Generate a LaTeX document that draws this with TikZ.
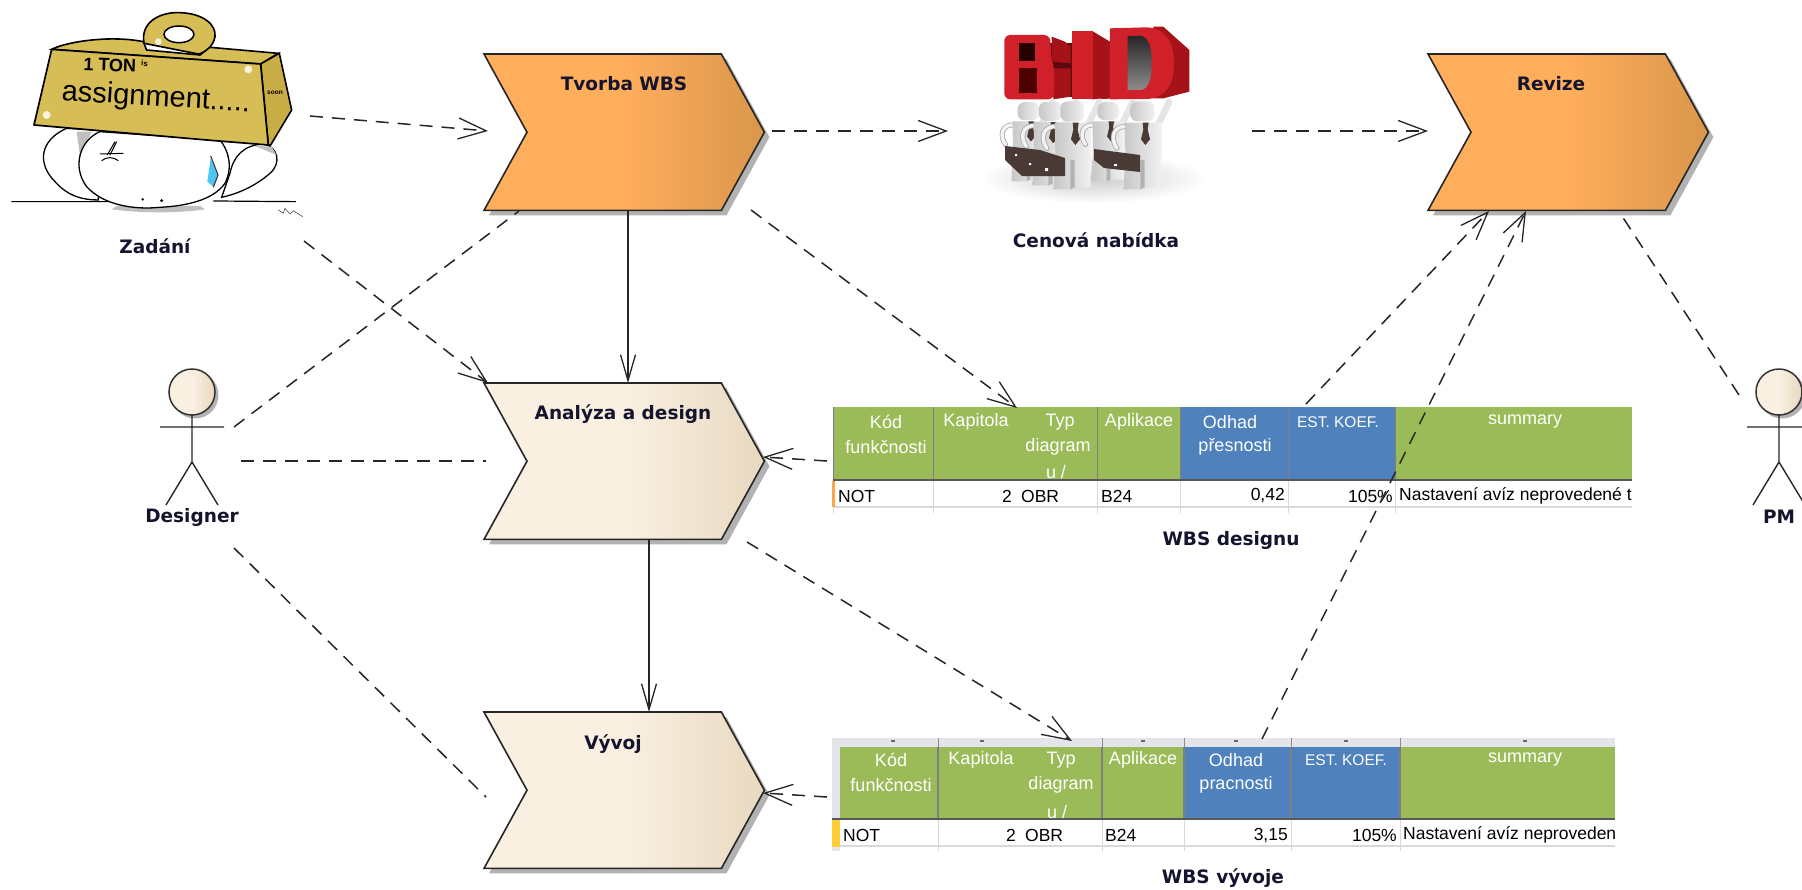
\documentclass[tikz,border=0pt]{standalone}
\usepackage{fontspec}
\setmainfont{Liberation Sans}
\newfontfamily\lblfont{DejaVu Sans}
\usetikzlibrary{arrows.meta,calc}
\definecolor{lblc}{HTML}{14142E}
\definecolor{gold}{HTML}{D7BD55}
\definecolor{goldd}{HTML}{C9AE45}
\definecolor{bidred}{HTML}{D0202A}
\definecolor{bidmid}{HTML}{A51218}
\definecolor{biddark}{HTML}{5E0A0D}
\definecolor{hgreen}{HTML}{9BBB59}
\definecolor{hblue}{HTML}{4F81BD}
\definecolor{hgray}{HTML}{7F7F7F}
\definecolor{gridc}{HTML}{D9D9D9}
\definecolor{bandc}{HTML}{E3E5EA}
\definecolor{orgA}{HTML}{FFAE5C}
\definecolor{orgB}{HTML}{D9964B}
\definecolor{begA}{HTML}{FAF0E2}
\definecolor{begB}{HTML}{E8D8C0}
\definecolor{casec}{HTML}{4A3A35}
\pgfdeclarehorizontalshading{orangegrad}{100bp}{color(0bp)=(orgA);
  color(25bp)=(orgA); color(50bp)=(orgA); color(75bp)=(orgB); color(100bp)=(orgB)}
\pgfdeclarehorizontalshading{beigegrad}{100bp}{color(0bp)=(begA);
  color(25bp)=(begA); color(50bp)=(begA); color(75bp)=(begB); color(100bp)=(begB)}
\tikzset{
  lbl/.style={font=\lblfont\bfseries\fontsize{18.5}{21}\selectfont,text=lblc,inner sep=0pt},
  chevtxt/.style={font=\lblfont\bfseries\fontsize{18.5}{21}\selectfont,text=lblc,inner sep=0pt},
  chevbox/.style={draw=none,fill=none,inner sep=0pt,minimum width=280pt,minimum height=156pt,anchor=north west},
  link/.style={line width=1.5pt,draw=black!85},
  dashlink/.style={link,dash pattern=on 13pt off 9pt},
  openhead/.style={-{Straight Barb[length=28pt,width=21pt,line width=1.3pt]}},
  solidhead/.style={-{Straight Barb[length=26pt,width=15pt,line width=1.3pt]}},
  hdr/.style={font=\fontsize{18}{20}\selectfont,text=white,inner sep=0pt},
  hdrs/.style={font=\fontsize{15.5}{18}\selectfont,text=white,inner sep=0pt},
  cell/.style={font=\fontsize{17.5}{20}\selectfont,text=black,inner sep=0pt},
  actorline/.style={line width=1.4pt,draw=black!85},
}
% chevron #1 name, #2 x, #3 y (top-left), #4 shading
\newcommand{\chevronnode}[4]{%
  \node[chevbox] (#1) at (#2,#3) {};
  \fill[black!30] ([shift={(5,5)}]#1.north west) -- ([shift={(-38,5)}]#1.north east) -- ([shift={(5,5)}]#1.east)
     -- ([shift={(-38,5)}]#1.south east) -- ([shift={(5,5)}]#1.south west) -- ([shift={(48,5)}]#1.west) -- cycle;
  \path[shading=#4,shading angle=0] (#1.north west) -- ([xshift=-43]#1.north east) -- (#1.east) -- ([xshift=-43]#1.south east)
     -- (#1.south west) -- ([xshift=43]#1.west) -- cycle;
  \draw[line width=1.6pt,black!85,line join=miter] (#1.north west) -- ([xshift=-43]#1.north east) -- (#1.east) -- ([xshift=-43]#1.south east)
     -- (#1.south west) -- ([xshift=43]#1.west) -- cycle;
}
% figure under the letters, in zoom-pixel units
\newcommand{\bidperson}[3]{%
  \begin{scope}[shift={(#1,#2)},x=0.3333pt,y=-0.3333pt,scale=#3]
    \draw[line width=6.5pt,black!10,line cap=round] (45,50) -- (82,-25);
    \draw[line width=5pt,black!35,line cap=round] (-45,50) .. controls (-90,45) and (-95,90) .. (-75,115);
    \draw[line width=3.5pt,black!5,line cap=round] (-45,50) .. controls (-90,45) and (-95,90) .. (-75,115);
    \shade[left color=black!22,right color=black!5] (-52,38) -- (58,38) -- (58,130) -- (55,232) -- (8,232) -- (8,150) -- (-5,150) -- (-5,238) -- (-55,238) -- (-50,130) -- cycle;
    \fill[black!30] (-5,150) -- (8,150) -- (8,232) -- (-5,238) -- cycle;
    \shade[left color=black!22,right color=black!5,rounded corners=7pt] (-35,-26) rectangle (38,34);
    \fill[casec] (2,38) -- (20,38) -- (17,58) -- (24,88) -- (10,105) -- (-3,88) -- (4,58) -- cycle;
  \end{scope}
}
\begin{document}
\begin{tikzpicture}[x=1pt,y=-1pt]
\useasboundingbox (0,0) rectangle (1802,889);
\clip (0,0) rectangle (1802,889);
\fill[white] (0,0) rectangle (1802,889);

% ---------- Weight picture (Zadani)
\begin{scope}[shift={(0,0)},x=0.3333pt,y=-0.3333pt]
  \fill[black!25] (335,628) .. controls (420,640) and (540,640) .. (615,628) -- (600,618) -- (350,618) -- cycle;
  \draw[line width=1.3pt,fill=white] (200,385) .. controls (120,420) and (110,490) .. (165,545) .. controls (205,590) and (250,600) .. (295,600) -- (300,390) -- cycle;
  \fill[black!25] (230,395) -- (275,395) -- (240,470) -- cycle;
  \draw[line width=1.3pt,fill=white] (690,520) .. controls (700,470) and (730,435) .. (790,432) .. controls (835,440) and (845,490) .. (810,520) .. controls (770,555) and (720,580) .. (665,592) -- cycle;
  \fill[black!25] (765,438) -- (815,440) -- (830,465) -- cycle;
  \draw[line width=1.3pt,fill=white] (300,395) .. controls (240,420) and (215,500) .. (260,560) .. controls (310,615) and (400,630) .. (480,622) .. controls (560,618) and (640,600) .. (675,550) .. controls (700,500) and (685,450) .. (660,420) -- cycle;
  \draw[line width=1.2pt] (34,605) -- (330,605) (640,603) -- (888,605);
  % tear
  \fill[cyan!70!white] (632,475) -- (652,525) -- (640,560) -- (622,545) -- cycle;
  \draw[line width=1.1pt,black!80] (632,468) -- (654,525) -- (640,562);
  % anger mark
  \draw[line width=1pt] (322,465) -- (345,425) (350,425) -- (330,465) (300,462) -- (370,460) (305,482) .. controls (320,470) and (340,470) .. (355,482);
  \fill (428,598) circle (1.4pt) (485,602) circle (1.6pt);
  % ring
  \draw[line width=1.6pt,fill=gold] (432,130) .. controls (420,60) and (490,35) .. (540,38) .. controls (610,40) and (650,75) .. (645,110) .. controls (640,140) and (615,158) .. (595,162) -- cycle;
  \draw[line width=1.5pt,fill=white] (537,103) ellipse [x radius=45,y radius=25];
  % top face
  \draw[line width=1.6pt,fill=gold] (155,148) .. controls (200,125) and (330,105) .. (430,125) -- (440,150) -- (600,165) -- (630,142) -- (835,160) -- (782,192) -- cycle;
  % right face
  \draw[line width=1.6pt,fill=goldd] (782,192) -- (838,160) -- (875,330) -- (812,435) -- (805,435) -- cycle;
  % front face
  \draw[line width=1.7pt,fill=gold,line join=round] (155,148) -- (782,192) -- (805,435) -- (620,420) -- (102,375) -- cycle;
  \fill[white,opacity=.8] (140,345) circle (12) (745,208) circle (12) (475,125) circle (10);
  \node[font=\fontsize{18}{20}\selectfont\bfseries,inner sep=0pt,rotate=-2,anchor=west] (tontxt) at (250,192) {1 TON \textsuperscript{\fontsize{8}{8}\selectfont is}};
  \node[font=\fontsize{29}{30}\selectfont,inner sep=0pt,rotate=-3.5,anchor=west] (asstxt) at (185,278) {assignment.....};
  \node[font=\fontsize{6.5}{7}\selectfont\bfseries,inner sep=0pt] (soontxt) at (825,277) {soon};
  % signature scribble
  \draw[line width=.6pt,black!70] (835,630) -- (850,640) -- (855,625) -- (870,642) -- (880,632) -- (908,650);
\end{scope}
\node[lbl] (zadani) at (155,246) {Zadání};

% ---------- BID picture
\begin{scope}[shift={(950,0)},x=0.3333pt,y=-0.3333pt]
  \shade[inner color=black!20,outer color=white] (430,535) ellipse [x radius=340,y radius=75];
  % B
  \fill[biddark] (205,128) rectangle (365,290);
  \fill[bidmid] (305,110) -- (345,125) -- (362,140) -- (362,290) -- (310,298) -- cycle;
  \fill[biddark] (280,183) -- (362,190) -- (362,205) -- (280,205) -- cycle;
  \fill[bidred,rounded corners=6pt] (163,105) -- (300,105) -- (305,185) -- (312,200) -- (312,298) -- (163,298) -- cycle;
  \fill[black!85!red] (207,130) rectangle (255,183);
  \fill[black!70!red] (207,203) rectangle (260,278);
  % I
  \fill[bidmid] (425,92) -- (480,125) -- (480,296) -- (425,298) -- cycle;
  \fill[bidred] (365,92) rectangle (430,298);
  % D
  \fill[bidmid] (610,80) -- (640,80) -- (718,150) -- (718,275) -- (640,295) -- (610,295) -- cycle;
  \fill[bidred] (480,85) -- (590,82) .. controls (650,85) and (672,130) .. (672,190) .. controls (672,250) and (650,295) .. (590,297) -- (480,298) -- cycle;
  \shade[top color=black!85,bottom color=black!45] (533,108) -- (575,108) .. controls (600,115) and (605,150) .. (605,190) .. controls (605,235) and (598,262) .. (575,270) -- (533,270) -- cycle;
\end{scope}
% figures
\bidperson{1028}{110}{0.9}
\bidperson{1050}{110}{0.95}
\bidperson{1072}{110}{1}
\bidperson{1108}{110}{0.9}
\bidperson{1142}{110}{1}
\fill[casec] (1005,146) -- (1040,150) -- (1065,158) -- (1065,176) -- (1022,176) -- (1005,160) -- cycle;
\fill[casec] (1094,149) -- (1140,155) -- (1140,172) -- (1104,168) -- (1094,160) -- cycle;
\fill[white] (1015,154) rectangle ++(2,2) (1029,163) rectangle ++(2,2) (1045,168) rectangle ++(3,3) (1114,164) rectangle ++(3,2);
\node[lbl] (cenova) at (1096,240) {Cenová nabídka};

% ---------- Chevrons
\chevronnode{tvorba}{484}{54}{orangegrad}
\chevronnode{revize}{1428}{54}{orangegrad}
\chevronnode{analyza}{484}{383}{beigegrad}
\chevronnode{vyvoj}{484}{712}{beigegrad}
\node[chevtxt] (tvorbat) at (624,84) {Tvorba WBS};
\node[chevtxt] (revizet) at (1551,84) {Revize};
\node[chevtxt] (analyzat) at (623,414) {Analýza a design};
\node[chevtxt] (vyvojt) at (613,744) {Vývoj};

% ---------- Table 1
\fill[hgreen] (833,407) rectangle (1632,479);
\fill[hblue] (1180.5,407) rectangle (1395.7,479);
\foreach \cx in {933.5,1097.5,1180.5,1288.5,1395.7}{\draw[hgray,line width=1.4pt] (\cx,407) -- (\cx,479);\draw[gridc,line width=1pt] (\cx,479) -- (\cx,513);}
\draw[hgray,line width=1.4pt] (833.5,407) -- (833.5,479);
\draw[hgray!70!black,line width=2.4pt] (833,480) -- (1632,480);
\draw[gridc,line width=2pt] (833,507) -- (1632,507);
\fill[orgA!80!orange] (832,481) rectangle (835,507);
\draw[gridc,line width=1pt] (833.5,507) -- (833.5,513);
\node[hdr] (a1) at (886,422) {Kód};
\node[hdr] (a2) at (886,447) {funkčnosti};
\node[hdr] (a3) at (976,422) {Kapitola};
\node[hdr] (a4) at (1060,422) {Typ};
\node[hdr] (a5) at (1058,447) {diagram};
\node[hdr] (a6) at (1056,472) {u /};
\node[hdr] (a7) at (1139,422) {Aplikace};
\node[hdr] (a8) at (1230,422) {Odhad};
\node[hdr] (a9) at (1235,447) {přesnosti};
\node[hdrs] (a10) at (1338,422) {EST. KOEF.};
\node[hdr] (a11) at (1525,422) {summary};
\node[cell,anchor=west] (a12) at (838,496) {NOT};
\node[cell,anchor=east] (a13) at (1012,496) {2};
\node[cell,anchor=west] (a14) at (1021,496) {OBR};
\node[cell,anchor=west] (a15) at (1101,496) {B24};
\node[cell,anchor=east] (a16) at (1285,496) {0,42};
\node[cell,anchor=east] (a17) at (1393,496) {105\%};
\begin{scope}
  \clip (1396,483) rectangle (1632,506);
  \node[cell,anchor=west] (a18) at (1399,496) {Nastavení avíz neprovedené t};
\end{scope}
\node[lbl] (wbsd) at (1231,540) {WBS designu};

% ---------- Table 2
\fill[bandc] (832,738) rectangle (1615,747);
\fill[bandc] (832,747) rectangle (840,818);
\fill[hgreen] (840,747) rectangle (1615,818);
\fill[hblue] (1184,747) rectangle (1400,818);
\foreach \cx in {938,1102,1184,1291,1400}{\draw[hgray,line width=1.4pt] (\cx,747) -- (\cx,818);\draw[gridc,line width=1pt] (\cx,818) -- (\cx,851);\draw[black!45,line width=1pt] (\cx,738) -- (\cx,747);}
\foreach \cx in {893,982,1143,1236,1346,1525}{\fill[black!60] (\cx-2,740) rectangle ++(4,2);}
\draw[hgray!70!black,line width=2.4pt] (832,819) -- (1615,819);
\draw[gridc,line width=2pt] (832,846) -- (1615,846);
\fill[orgA!60!yellow] (832,820) rectangle (840,847);
\fill[bandc] (832,847) rectangle (840,851);
\node[hdr] (b1) at (891,760) {Kód};
\node[hdr] (b2) at (891,785) {funkčnosti};
\node[hdr] (b3) at (981,760) {Kapitola};
\node[hdr] (b4) at (1061,760) {Typ};
\node[hdr] (b5) at (1061,785) {diagram};
\node[hdr] (b6) at (1057,812) {u /};
\node[hdr] (b7) at (1143,760) {Aplikace};
\node[hdr] (b8) at (1236,760) {Odhad};
\node[hdr] (b9) at (1236,785) {pracnosti};
\node[hdrs] (b10) at (1346,760) {EST. KOEF.};
\node[hdr] (b11) at (1525,760) {summary};
\node[cell,anchor=west] (b12) at (843,835) {NOT};
\node[cell,anchor=east] (b13) at (1016,835) {2};
\node[cell,anchor=west] (b14) at (1025,835) {OBR};
\node[cell,anchor=west] (b15) at (1105,835) {B24};
\node[cell,anchor=east] (b16) at (1288,835) {3,15};
\node[cell,anchor=east] (b17) at (1397,835) {105\%};
\begin{scope}
  \clip (1400,822) rectangle (1615,845);
  \node[cell,anchor=west] (b18) at (1403,835) {Nastavení avíz neprovedené};
\end{scope}
\node[lbl] (wbsv) at (1223,878) {WBS vývoje};

% ---------- Actors
\foreach \nm/\ax/\lb in {designer/192/Designer,pm/1779/PM}{
  \fill[black!30] (\ax+3,395) circle (23.5);
  \shade[left color=begA,right color=begB,middle color=begA] (\ax,392) circle (23);
  \draw[line width=1.5pt,black!80] (\ax,392) circle (23);
  \draw[actorline] (\ax-32,427) -- (\ax+32,427) (\ax,415) -- (\ax,462) (\ax-26,505) -- (\ax,462) -- (\ax+26,505);
  \node[lbl] (\nm) at (\ax,517) {\lb};
}

% ---------- Connector ends
\coordinate (zadR) at (310,116);
\coordinate (tvL) at (488,131);
\coordinate (tvR) at (772,131);
\coordinate (cnL) at (948,131);
\coordinate (cnR) at (1252,131);
\coordinate (rvL) at (1428,131);
\coordinate (tvB) at (628,210);
\coordinate (anT) at (628,383);
\coordinate (tvBR) at (751,210);
\coordinate (wdT) at (1017,408);
\coordinate (zadB) at (304,241);
\coordinate (anTL) at (488,383);
\coordinate (dgA) at (234,427);
\coordinate (tvBL) at (519,211);
\coordinate (dgM) at (241,461);
\coordinate (anL) at (486,461);
\coordinate (dgB) at (234,548);
\coordinate (vyL) at (486,797);
\coordinate (anB) at (649,540);
\coordinate (vyT) at (649,712);
\coordinate (wdL) at (827,461);
\coordinate (anR) at (763,457);
\coordinate (wvL) at (827,797);
\coordinate (vyR) at (763,793);
\coordinate (anBR) at (747,542);
\coordinate (wvT) at (1072,741);
\coordinate (wdTR) at (1306,404);
\coordinate (rvB1) at (1489,211);
\coordinate (wvTR) at (1262,739);
\coordinate (rvB2) at (1526,211);
\coordinate (pmL) at (1739,395);
\coordinate (rvB3) at (1618,210);

% ---------- Connectors
\draw[dashlink,openhead] (zadR) -- (tvL);
\draw[dashlink,openhead] (tvR) -- (cnL);
\draw[dashlink,openhead] (cnR) -- (rvL);
\draw[link,solidhead] (tvB) -- (anT);
\draw[dashlink,openhead] (tvBR) -- (wdT);
\draw[dashlink,openhead] (zadB) -- (anTL);
\draw[dashlink] (dgA) -- (tvBL);
\draw[dashlink] (dgM) -- (anL);
\draw[dashlink] (dgB) -- (vyL);
\draw[link,solidhead] (anB) -- (vyT);
\draw[dashlink,openhead] (wdL) -- (anR);
\draw[dashlink,openhead] (wvL) -- (vyR);
\draw[dashlink,openhead] (anBR) -- (wvT);
\draw[dashlink,openhead] (wdTR) -- (rvB1);
\draw[dashlink,openhead] (wvTR) -- (rvB2);
\draw[dashlink] (pmL) -- (rvB3);
\end{tikzpicture}
\end{document}
